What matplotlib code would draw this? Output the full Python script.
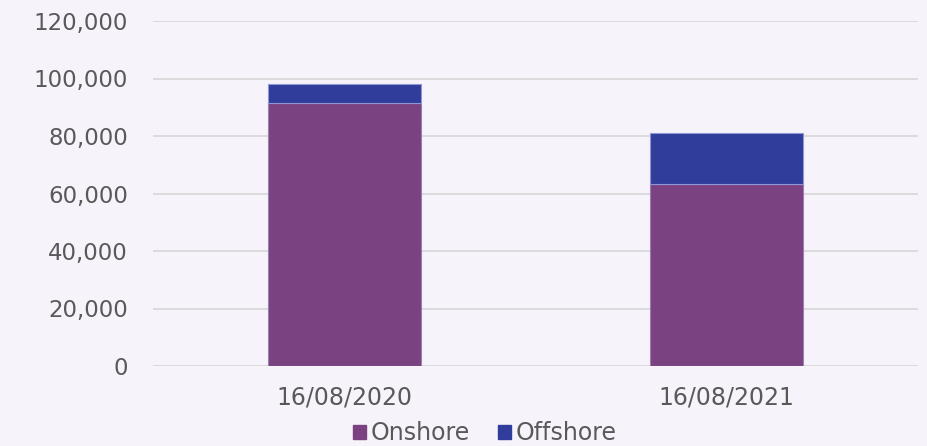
import numpy as np
import matplotlib.pyplot as plt
from matplotlib.patches import Patch

# dados
datas = ['16/08/2020', '16/08/2021']
onshore = [91500, 63300]
offshore = [6500, 17700]
yticks = [0, 20000, 40000, 60000, 80000, 100000, 120000]

fundo = '#F6F4FA'
roxo = '#7B4282'
azul = '#303D9A'
cinza = '#595959'

plt.rcParams['font.family'] = ['DejaVu Sans']

fig = plt.figure(figsize=(9.28, 4.46), dpi=100, facecolor=fundo)
ax = fig.add_axes([153/928, 1 - 366/446, 765/928, 345/446], facecolor=fundo)

x = np.arange(len(datas))
ax.bar(x, onshore, width=0.4, color=roxo, edgecolor='#9C7FB0', linewidth=0.8, zorder=3)
ax.bar(x, offshore, width=0.4, bottom=onshore, color=azul, edgecolor='#8E96D6',
       linewidth=0.8, zorder=3)

ax.set_xlim(-0.5, 1.5)
ax.set_ylim(0, 120000)
ax.set_yticks(yticks)
ax.set_yticklabels([f'{v:,}' for v in yticks])
ax.set_xticks(x)
ax.set_xticklabels(datas)
ax.grid(axis='y', color='#D9D9D9', linewidth=1.3, zorder=0)
ax.tick_params(axis='y', length=0, pad=18, labelsize=16.5, labelcolor=cinza)
ax.tick_params(axis='x', length=0, pad=14, labelsize=17, labelcolor=cinza)
for s in ax.spines.values():
    s.set_visible(False)

leg = fig.legend(handles=[Patch(color=roxo, label='Onshore'), Patch(color=azul, label='Offshore')],
                 loc='center', bbox_to_anchor=(485/928, 1 - 433/446), ncol=2, frameon=False,
                 fontsize=17, handlelength=0.55, handleheight=0.55, handletextpad=0.2,
                 columnspacing=1.2, labelcolor=cinza)

fig.savefig('out.png', dpi=100, facecolor=fundo)
